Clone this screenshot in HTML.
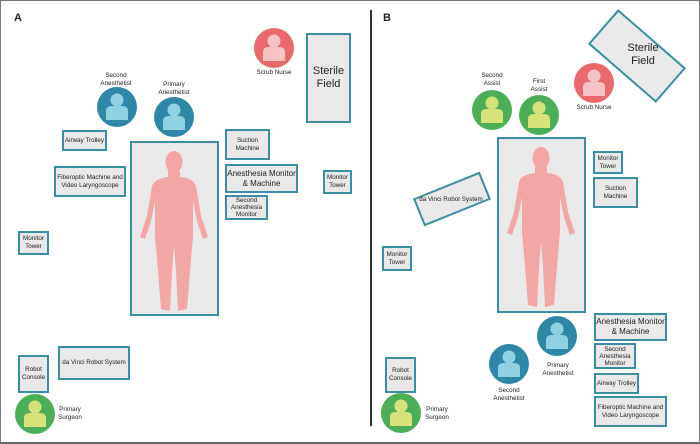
<!DOCTYPE html>
<html><head><style>
body{margin:0;width:700px;height:444px;position:relative;background:#fff;font-family:"Liberation Sans",sans-serif;overflow:hidden}
.frame{position:absolute;left:0;top:0;width:698px;height:441px;border:1px solid #777;border-bottom:2px solid #666}
.b{position:absolute;box-sizing:border-box;background:#e9e9e9;border:2px solid #3b8fa2;display:flex;align-items:center;justify-content:center;text-align:center;font-size:6.3px;line-height:8px;color:#222;white-space:nowrap}
.t{position:absolute;font-size:6.3px;line-height:8px;text-align:center;color:#222;transform:translateX(-50%);white-space:nowrap}
.big{font-size:8px;line-height:10px}
.sm{line-height:7px}
</style></head><body>
<div class="frame"></div>
<div style="position:absolute;left:370px;top:10px;width:2px;height:416px;background:#333"></div>
<div style="position:absolute;left:14px;top:12px;font-size:11px;font-weight:bold;color:#222">A</div>
<div style="position:absolute;left:383px;top:12px;font-size:11px;font-weight:bold;color:#222">B</div>

<svg width="700" height="444" style="position:absolute;left:0;top:0">
<defs>
<g id="body"><ellipse cx="44" cy="21" rx="8.5" ry="11" fill="#f3a6a6"/>
<path d="M38,30 L50,30 L50,36 Q63,37 66,45 L71,75 L78,96 L73,98 L67,80 L63,60 L63,95 L60,130 L57,168 L48,170 L46,130 L44,105 L42,130 L40,170 L31,168 L28,130 L25,95 L25,60 L21,80 L15,98 L10,96 L17,75 L22,45 Q25,37 38,36 Z" fill="#f3a6a6"/></g>
<g id="pb"><circle r="20" fill="#2f87a8"/><circle cy="-7" r="6.5" fill="#8fd3e2"/><path d="M-11,13 L-11,4 Q-11,-1 -5,-1 L5,-1 Q11,-1 11,4 L11,13 Z" fill="#8fd3e2"/></g>
<g id="pg"><circle r="20" fill="#4caf58"/><circle cy="-7" r="6.5" fill="#d7e27a"/><path d="M-11,13 L-11,4 Q-11,-1 -5,-1 L5,-1 Q11,-1 11,4 L11,13 Z" fill="#d7e27a"/></g>
<g id="pr"><circle r="20" fill="#e86a6c"/><circle cy="-7" r="6.5" fill="#f5c3c3"/><path d="M-11,13 L-11,4 Q-11,-1 -5,-1 L5,-1 Q11,-1 11,4 L11,13 Z" fill="#f5c3c3"/></g>
</defs>
<rect x="131" y="142" width="87" height="173" fill="#e9e9e9" stroke="#3b8fa2" stroke-width="2"/>
<use href="#body" transform="translate(130,141)"/>
<rect x="498" y="138" width="87" height="174" fill="#e9e9e9" stroke="#3b8fa2" stroke-width="2"/>
<use href="#body" transform="translate(497,137)"/>
<use href="#pr" x="274" y="48"/>
<use href="#pb" x="117" y="107"/>
<use href="#pb" x="174" y="117"/>
<use href="#pg" x="35" y="414"/>
<use href="#pg" x="492" y="110"/>
<use href="#pg" x="539" y="115"/>
<use href="#pr" x="594" y="83"/>
<use href="#pb" x="557" y="336"/>
<use href="#pb" x="509" y="364"/>
<use href="#pg" x="401" y="413"/>
<rect x="-44" y="-22" width="88" height="44" fill="#e9e9e9" stroke="#3b8fa2" stroke-width="2" transform="translate(637,56) rotate(41)"/>
<rect x="-35" y="-14" width="70" height="28" fill="#e9e9e9" stroke="#3b8fa2" stroke-width="2" transform="translate(452,199) rotate(-22)"/>
</svg>

<!-- A -->
<div class="b" style="left:306px;top:33px;width:45px;height:90px;font-size:11px;line-height:13px">Sterile<br>Field</div>
<div class="t" style="left:274px;top:69px">Scrub Nurse</div>
<div class="t" style="left:116px;top:72px">Second<br>Anesthetist</div>
<div class="t" style="left:174px;top:81px">Primary<br>Anesthetist</div>
<div class="b" style="left:62px;top:130px;width:45px;height:21px">Airway Trolley</div>
<div class="b" style="left:54px;top:166px;width:72px;height:31px">Fiberoptic Machine and<br>Video Laryngoscope</div>
<div class="b" style="left:225px;top:129px;width:45px;height:31px">Suction<br>Machine</div>
<div class="b big" style="left:225px;top:164px;width:73px;height:29px">Anesthesia Monitor<br>&amp; Machine</div>
<div class="b sm" style="left:225px;top:195px;width:43px;height:25px">Second<br>Anesthesia<br>Monitor</div>
<div class="b" style="left:323px;top:170px;width:29px;height:24px">Monitor<br>Tower</div>
<div class="b" style="left:18px;top:231px;width:31px;height:24px">Monitor<br>Tower</div>
<div class="b" style="left:18px;top:355px;width:31px;height:38px">Robot<br>Console</div>
<div class="b" style="left:58px;top:346px;width:72px;height:34px">da Vinci Robot System</div>
<div class="t" style="left:70px;top:406px">Primary<br>Surgeon</div>

<!-- B -->
<div class="t" style="left:643px;top:42px;font-size:11px;line-height:13px">Sterile<br>Field</div>
<div class="t" style="left:451px;top:196px">da Vinci Robot System</div>
<div class="t" style="left:492px;top:72px">Second<br>Assist</div>
<div class="t" style="left:539px;top:78px">First<br>Assist</div>
<div class="t" style="left:594px;top:104px">Scrub Nurse</div>
<div class="b" style="left:593px;top:151px;width:30px;height:23px">Monitor<br>Tower</div>
<div class="b" style="left:593px;top:177px;width:45px;height:31px">Suction<br>Machine</div>
<div class="b" style="left:382px;top:246px;width:30px;height:25px">Monitor<br>Tower</div>
<div class="t" style="left:558px;top:362px">Primary<br>Anesthetist</div>
<div class="t" style="left:509px;top:387px">Second<br>Anesthetist</div>
<div class="b big" style="left:594px;top:313px;width:73px;height:28px">Anesthesia Monitor<br>&amp; Machine</div>
<div class="b sm" style="left:594px;top:343px;width:42px;height:26px">Second<br>Anesthesia<br>Monitor</div>
<div class="b" style="left:594px;top:373px;width:45px;height:21px">Airway Trolley</div>
<div class="b" style="left:594px;top:396px;width:73px;height:31px">Fiberoptic Machine and<br>Video Laryngoscope</div>
<div class="b" style="left:385px;top:357px;width:31px;height:36px">Robot<br>Console</div>
<div class="t" style="left:437px;top:406px">Primary<br>Surgeon</div>
</body></html>
